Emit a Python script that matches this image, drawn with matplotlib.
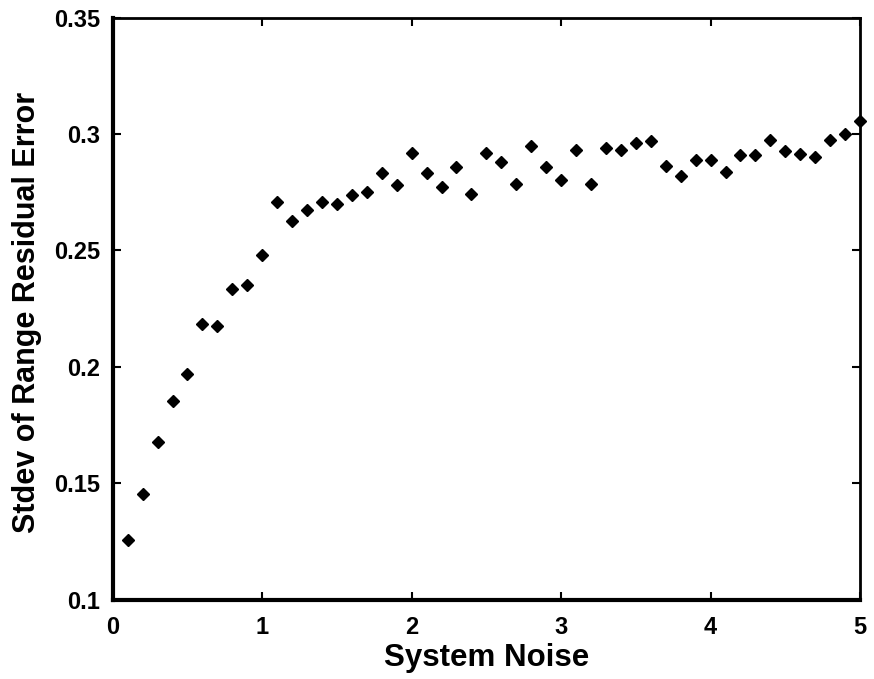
import numpy as np
import matplotlib
matplotlib.use("Agg")
import matplotlib.pyplot as plt

# system noise levels and measured stdev of range residual error
noise = [0.1, 0.2, 0.3, 0.4, 0.5, 0.6, 0.7, 0.8, 0.9, 1.0,
         1.1, 1.2, 1.3, 1.4, 1.5, 1.6, 1.7, 1.8, 1.9, 2.0,
         2.1, 2.2, 2.3, 2.4, 2.5, 2.6, 2.7, 2.8, 2.9, 3.0,
         3.1, 3.2, 3.3, 3.4, 3.5, 3.6, 3.7, 3.8, 3.9, 4.0,
         4.1, 4.2, 4.3, 4.4, 4.5, 4.6, 4.7, 4.8, 4.9, 5.0]
stdev_err = [0.1255, 0.1453, 0.1679, 0.1852, 0.1971, 0.2183, 0.2174, 0.2336, 0.2353, 0.2480,
             0.2707, 0.2628, 0.2675, 0.2706, 0.2701, 0.2736, 0.2752, 0.2831, 0.2779, 0.2918,
             0.2831, 0.2772, 0.2860, 0.2741, 0.2918, 0.2882, 0.2784, 0.2947, 0.2858, 0.2801,
             0.2933, 0.2784, 0.2940, 0.2931, 0.2960, 0.2969, 0.2864, 0.2821, 0.2887, 0.2887,
             0.2835, 0.2909, 0.2908, 0.2974, 0.2925, 0.2916, 0.2901, 0.2975, 0.3000, 0.3057]

xticks = [0, 1, 2, 3, 4, 5]
yticks = [0.1, 0.15, 0.2, 0.25, 0.3, 0.35]
ytick_labels = ['0.1', '0.15', '0.2', '0.25', '0.3', '0.35']

plt.rcParams['font.family'] = ['Liberation Sans', 'DejaVu Sans']
plt.rcParams['font.weight'] = 'bold'

fig = plt.figure(figsize=(8.74, 6.79), dpi=100)
ax = fig.add_axes([0.129, 0.117, 0.855, 0.857])

ax.plot(noise, stdev_err, linestyle='none', marker='D', markersize=6.2,
        color='black', clip_on=False)

ax.set_xlim(0, 5)
ax.set_ylim(0.1, 0.35)
ax.set_xticks(xticks)
ax.set_yticks(yticks)
ax.set_yticklabels(ytick_labels)
ax.tick_params(direction='in', length=6, width=1.5, labelsize=17,
               top=True, right=True)
ax.tick_params(axis='x', pad=12)
ax.tick_params(axis='y', pad=9)
for lab in ax.get_xticklabels() + ax.get_yticklabels():
    lab.set_fontweight('bold')
ax.spines['left'].set_linewidth(3)
ax.spines['bottom'].set_linewidth(3)
ax.spines['top'].set_linewidth(2)
ax.spines['right'].set_linewidth(2)

ax.set_xlabel('System Noise', fontsize=22.5, fontweight='bold')
ax.set_ylabel('Stdev of Range Residual Error', fontsize=22, fontweight='bold')
ax.xaxis.set_label_coords(0.5, -0.075)
ax.yaxis.set_label_coords(-0.095, 0.493)

fig.savefig('out.png', dpi=100)
